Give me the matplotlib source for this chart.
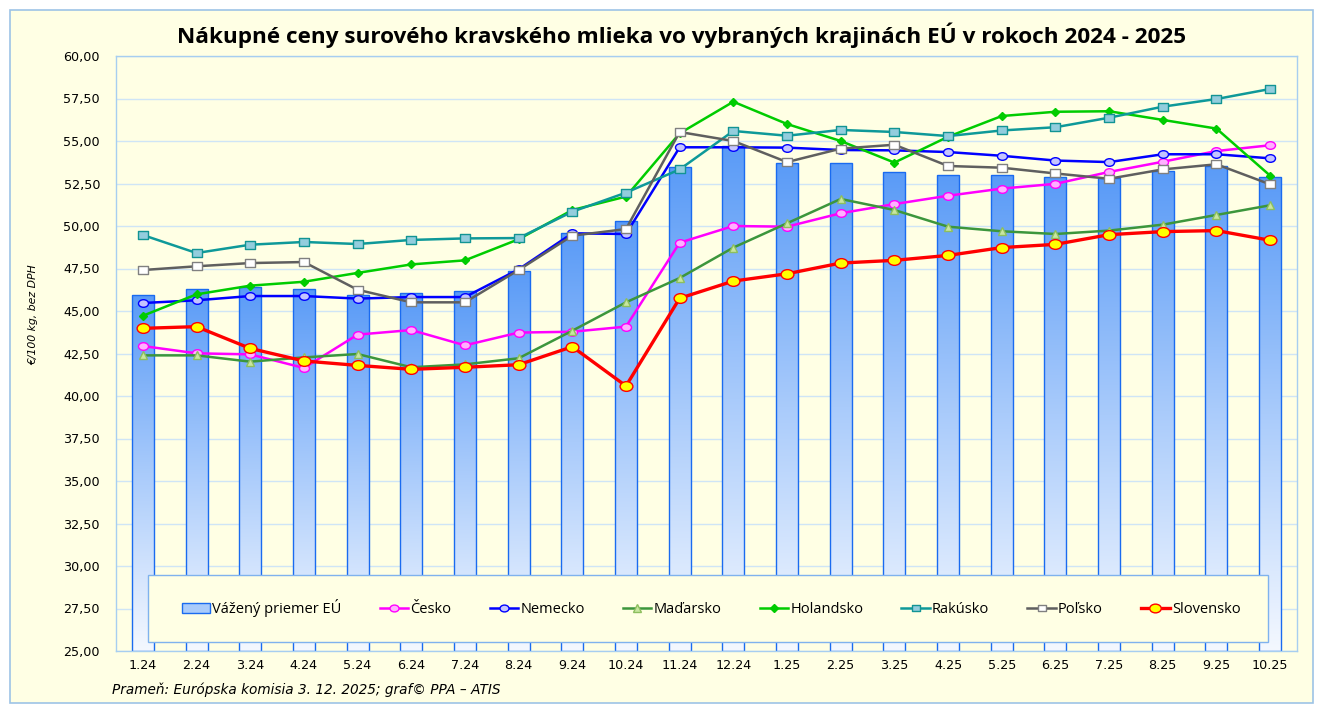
import numpy as np
import matplotlib
matplotlib.use("Agg")
import matplotlib.pyplot as plt
from matplotlib.patches import Rectangle, Patch
from matplotlib.lines import Line2D
from matplotlib.path import Path
from matplotlib.transforms import Affine2D
from matplotlib.colors import LinearSegmentedColormap

# ---------------- data ----------------
months = ["1.24", "2.24", "3.24", "4.24", "5.24", "6.24", "7.24", "8.24", "9.24", "10.24",
          "11.24", "12.24", "1.25", "2.25", "3.25", "4.25", "5.25", "6.25", "7.25", "8.25",
          "9.25", "10.25"]

eu_avg = [45.92, 46.30, 46.40, 46.30, 45.92, 46.04, 46.20, 47.37, 49.57, 50.30,
          53.45, 54.70, 53.70, 53.70, 53.16, 52.98, 52.99, 52.86, 52.80, 53.24,
          53.53, 52.90]
cesko = [42.94, 42.51, 42.45, 41.65, 43.61, 43.88, 42.98, 43.73, 43.78, 44.08,
         49.02, 50.00, 49.96, 50.75, 51.29, 51.78, 52.20, 52.48, 53.18, 53.78,
         54.41, 54.75]
nemecko = [45.47, 45.63, 45.88, 45.88, 45.73, 45.82, 45.82, 47.45, 49.57, 49.53,
           54.63, 54.63, 54.61, 54.47, 54.45, 54.35, 54.13, 53.85, 53.76, 54.22,
           54.22, 53.98]
madarsko = [42.39, 42.39, 42.02, 42.27, 42.47, 41.69, 41.86, 42.22, 43.84, 45.51,
            46.94, 48.73, 50.16, 51.59, 50.94, 49.96, 49.69, 49.53, 49.73, 50.08,
            50.65, 51.22]
holandsko = [44.72, 45.98, 46.49, 46.72, 47.24, 47.74, 47.98, 49.22, 50.94, 51.73,
             55.45, 57.31, 56.00, 55.00, 53.73, 55.25, 56.47, 56.72, 56.75, 56.24,
             55.73, 52.96]
rakusko = [49.47, 48.41, 48.90, 49.06, 48.94, 49.18, 49.27, 49.29, 50.84, 51.96,
           53.33, 55.59, 55.31, 55.65, 55.53, 55.29, 55.62, 55.81, 56.37, 57.02,
           57.47, 58.06]
polsko = [47.41, 47.63, 47.82, 47.88, 46.25, 45.51, 45.51, 47.41, 49.43, 49.82,
          55.53, 55.00, 53.76, 54.55, 54.78, 53.53, 53.43, 53.09, 52.78, 53.33,
          53.63, 52.45]
slovensko = [43.98, 44.08, 42.80, 42.06, 41.80, 41.57, 41.69, 41.84, 42.90, 40.59,
             45.75, 46.76, 47.19, 47.82, 47.98, 48.27, 48.73, 48.92, 49.49, 49.67,
             49.73, 49.16]

series_names = ["Česko", "Nemecko", "Maďarsko", "Holandsko", "Rakúsko", "Poľsko", "Slovensko"]
bar_name = "Vážený priemer EÚ"
title = "Nákupné ceny surového kravského mlieka vo vybraných krajinách EÚ v rokoch 2024 - 2025"
ylabel = "€/100 kg, bez DPH"
source = "Prameň: Európska komisia 3. 12. 2025; graf© PPA – ATIS"
yticks = [25, 27.5, 30, 32.5, 35, 37.5, 40, 42.5, 45, 47.5, 50, 52.5, 55, 57.5, 60]

# ---------------- figure ----------------
W, H = 1323, 704
BG = "#FFFFE4"
fig = plt.figure(figsize=(W / 100, H / 100), dpi=100)
fig.patch.set_facecolor("white")
fig.add_artist(Rectangle((10 / W, 1 / H), 1303 / W, 693 / H, transform=fig.transFigure,
                         facecolor=BG, edgecolor="#9DC3E6", linewidth=1.2, zorder=0))

ax = fig.add_axes([116 / W, 1 - 651 / H, 1181 / W, 595 / H])
ax.set_facecolor(BG)

x = np.arange(len(months))

# bars with vertical gradient
bar_w = 0.41
bars = ax.bar(x, np.array(eu_avg) - 25, bottom=25, width=bar_w, facecolor="none",
              edgecolor="#1A6BF0", linewidth=1.0, zorder=2)
cmap = LinearSegmentedColormap.from_list("g", ["#F4F8FF", "#A9CBFB", "#5A9BF7"])
grad = np.linspace(0, 1, 256).reshape(-1, 1)
for b in bars:
    x0 = b.get_x()
    x1 = x0 + b.get_width()
    top = b.get_y() + b.get_height()
    im = ax.imshow(grad, extent=[x0, x1, 25, top], origin="lower", aspect="auto",
                   cmap=cmap, zorder=1.9, interpolation="bilinear")
    im.set_clip_path(b)

# custom markers (slightly wider than tall, as in the reference)
ell = Path.unit_circle().transformed(Affine2D().scale(1, 0.76))
sq = Path([(-1, -0.78), (1, -0.78), (1, 0.78), (-1, 0.78), (-1, -0.78)],
          [Path.MOVETO, Path.LINETO, Path.LINETO, Path.LINETO, Path.CLOSEPOLY])

styles = {
    "Česko": dict(color="#FF00FF", lw=1.8, marker=ell, ms=7.2, mfc="#FFB0FF", mec="#FF00FF", mew=1.0),
    "Nemecko": dict(color="#0000FF", lw=1.8, marker=ell, ms=7.2, mfc="#C4C4FF", mec="#0000FF", mew=1.0),
    "Maďarsko": dict(color="#3C963C", lw=1.8, marker="^", ms=6.2, mfc="#C8E6A0", mec="#8DBF5E", mew=1.0),
    "Holandsko": dict(color="#00CC00", lw=1.8, marker="D", ms=4.3, mfc="#00CC00", mec="#00CC00", mew=1.0),
    "Rakúsko": dict(color="#0E9999", lw=1.8, marker=sq, ms=7.0, mfc="#93CDDD", mec="#129494", mew=1.0),
    "Poľsko": dict(color="#5F5F5F", lw=1.8, marker=sq, ms=7.0, mfc="white", mec="#808080", mew=1.0),
    "Slovensko": dict(color="#FF0000", lw=2.4, marker=ell, ms=9.2, mfc="#FFFF00", mec="#FF0000", mew=1.0),
}
data = [cesko, nemecko, madarsko, holandsko, rakusko, polsko, slovensko]
for i, (name, vals) in enumerate(zip(series_names, data)):
    st = styles[name]
    ax.plot(x, vals, color=st["color"], lw=st["lw"], marker=st["marker"], ms=st["ms"],
            mfc=st["mfc"], mec=st["mec"], mew=st["mew"], zorder=3 + i * 0.1,
            solid_joinstyle="round")

ax.set_xlim(-0.5, len(months) - 0.5)
ax.set_ylim(25, 60)
ax.set_yticks(yticks)
ax.set_yticklabels([f"{v:.2f}".replace(".", ",") for v in yticks], fontsize=9.2,
                   family="DejaVu Sans")
ax.set_xticks(x)
ax.set_xticklabels(months, fontsize=9.2, family="DejaVu Sans")
ax.tick_params(axis="both", length=0, colors="#000000")
ax.tick_params(axis="y", pad=11.5)
ax.tick_params(axis="x", pad=6)
ax.grid(axis="y", color="#CFE5F6", lw=1.0, zorder=0.5)
ax.set_axisbelow(True)
for s in ax.spines.values():
    s.set_color("#A7CEF0")
    s.set_linewidth(1.0)

# legend box
ax.add_patch(Rectangle(((148 - 116) / 1181, (651 - 642) / 595), (1268 - 148) / 1181, 67 / 595,
                       transform=ax.transAxes, facecolor=BG, edgecolor="#7FB2EE",
                       linewidth=1.0, zorder=5))
handles = [Patch(facecolor="#A9CBFB", edgecolor="#1A6BF0", linewidth=1.0)]
for name in series_names:
    st = styles[name]
    handles.append(Line2D([], [], color=st["color"], lw=st["lw"], marker=st["marker"],
                          ms=st["ms"] * 0.9, mfc=st["mfc"], mec=st["mec"], mew=st["mew"]))
leg = ax.legend(handles, [bar_name] + series_names, ncol=8, loc="center",
                bbox_to_anchor=((711 - 116) / 1181, (651 - 608) / 595),
                bbox_transform=ax.transAxes, frameon=False,
                prop={"family": "Open Sans", "size": 10.5},
                handlelength=1.95, handletextpad=0.15, columnspacing=2.62, handleheight=0.7)
leg.set_zorder(6)

# texts
fig.text(682 / W, 1 - 35 / H, title, ha="center", va="center", fontsize=16.2,
         fontweight="bold", family="Open Sans")
fig.text(33 / W, 1 - 315 / H, ylabel, rotation=90, ha="center", va="center",
         fontsize=7.8, style="italic", family="DejaVu Sans")
fig.text(112 / W, 1 - 690 / H, source, ha="left", va="center", fontsize=9.8,
         style="italic", family="DejaVu Sans")

fig.savefig("out.png", dpi=100, facecolor=fig.get_facecolor())
